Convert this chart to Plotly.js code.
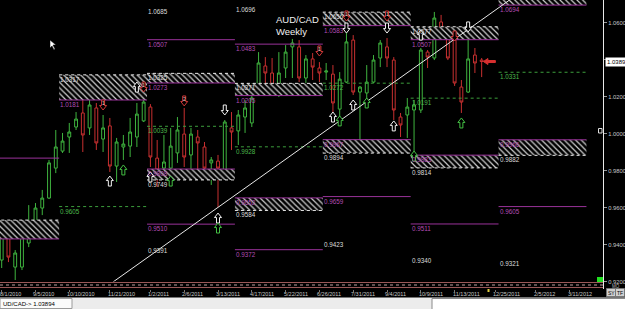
<!DOCTYPE html>
<html><head><meta charset="utf-8">
<script src="https://cdn.plot.ly/plotly-3.0.1.min.js"></script>
<style>html,body{margin:0;padding:0;background:#000;overflow:hidden}#chart{width:625px;height:309px}</style>
</head><body><div id="chart"></div>
<script>
// ---------- DATA ----------
const firstWeek = '2010-08-01';
const opens = [0.9316,0.9435,0.9278,0.9278,0.9408,0.9516,0.9597,0.9651,0.9813,0.9905,
 0.9981,1.0035,1.0111,1.0030,1.0138,0.9970,1.0041,0.9824,0.9927,0.9932,
 0.9981,1.0068,1.0143,0.9867,0.9813,0.9813,0.9895,0.9997,0.9884,0.9981,
 0.9927,0.9841,0.9851,0.9786,1.0030,1.0014,1.0089,1.0057,1.0251,1.0365,
 1.0327,1.0208,1.0354,1.0468,1.0468,1.0300,1.0403,1.0354,1.0332,1.0321,
 1.0132,1.0278,1.0505,1.0224,1.0219,1.0278,1.0408,1.0468,1.0397,1.0089,
 1.0100,1.0127,1.0127,1.0440,1.0408,1.0603,1.0559,1.0505,1.0251,1.0224,
 1.0424,1.0397];
const highs = [0.9479,0.9462,0.9370,0.9489,0.9613,0.9624,0.9695,0.9857,1.0019,1.0003,
 1.0057,1.0116,1.0181,1.0181,1.0165,1.0100,1.0084,0.9976,0.9992,1.0084,
 1.0165,1.0197,1.0159,0.9965,0.9992,1.0030,1.0089,1.0138,1.0030,1.0019,
 0.9954,0.9873,0.9884,1.0073,1.0116,1.0127,1.0181,1.0273,1.0440,1.0413,
 1.0408,1.0440,1.0478,1.0511,1.0505,1.0424,1.0435,1.0386,1.0381,1.0370,
 1.0332,1.0543,1.0532,1.0257,1.0370,1.0424,1.0505,1.0516,1.0413,1.0111,
 1.0192,1.0181,1.0462,1.0451,1.0657,1.0641,1.0581,1.0522,1.0289,1.0597,
 1.0462,1.0408];
const lows = [0.9273,0.9305,0.9208,0.9262,0.9386,0.9462,0.9559,0.9646,0.9786,0.9895,
 0.9895,1.0019,0.9900,0.9992,0.9911,0.9900,0.9792,0.9738,0.9857,0.9873,
 0.9927,1.0062,0.9819,0.9711,0.9749,0.9786,0.9841,0.9819,0.9786,0.9803,
 0.9792,0.9722,0.9603,0.9781,0.9911,0.9938,1.0003,1.0035,1.0219,1.0208,
 1.0208,1.0197,1.0300,1.0300,1.0278,1.0273,1.0289,1.0278,1.0289,1.0116,
 1.0084,1.0273,1.0208,0.9895,1.0170,1.0273,1.0359,1.0359,1.0073,0.9981,
 0.9976,0.9873,1.0111,1.0354,1.0397,1.0505,1.0397,1.0257,1.0111,1.0219,
 1.0327,1.0305];
const closes = [0.9441,0.9332,0.9354,0.9451,0.9495,0.9597,0.9651,0.9841,0.9927,0.9959,
 1.0008,1.0078,0.9992,1.0154,0.9949,1.0030,0.9824,0.9954,0.9943,1.0008,
 1.0105,1.0170,0.9873,0.9803,0.9846,0.9932,1.0019,0.9873,0.9997,0.9949,
 0.9813,0.9857,0.9813,1.0062,1.0008,1.0100,1.0138,1.0192,1.0381,1.0327,
 1.0262,1.0327,1.0440,1.0489,1.0300,1.0403,1.0359,1.0327,1.0338,1.0165,
 1.0294,1.0495,1.0224,1.0251,1.0278,1.0397,1.0489,1.0408,1.0127,1.0046,
 1.0143,1.0154,1.0451,1.0413,1.0624,1.0543,1.0408,1.0273,1.0170,1.0403,
 1.0381,1.0389];

const tickDates = ['2010-08-01','2010-09-05','2010-10-10','2010-11-21','2011-01-02','2011-02-06','2011-03-13','2011-04-17','2011-05-22','2011-06-26','2011-07-31','2011-09-04','2011-10-09','2011-11-13','2011-12-25','2012-02-05','2012-03-11'];
const tickLabels = ['8/1/2010','9/5/2010','10/10/2010','11/21/2010','1/2/2011','2/6/2011','3/13/2011','4/17/2011','5/22/2011','6/26/2011','7/31/2011','9/4/2011','10/9/2011','11/13/2011','12/25/2011','2/5/2012','3/11/2012'];
const priceTicks = [0.92,0.94,0.96,0.98,1.00,1.02,1.04,1.06];
const priceTickLabels = ['0.9200','0.9400','0.9600','0.9800','1.0000','1.0200','','1.0600']; // 1.0400 sits under the price box

// quarterly pivot segments
const segBounds = ['2010-06-30 12:00','2010-09-29 12:00','2010-12-29 12:00','2011-03-30 12:00','2011-06-29 12:00','2011-09-28 12:00','2011-12-28 12:00','2012-03-28 12:00'];
const r2Level     = [null, null, 1.0685, 1.0696, null, null, null];
const r1Level     = [0.9867, null, 1.0507, 1.0483, null, null, null];
const supplyTop   = [0.9532, 1.0317, 1.0325, 1.0271, 1.0656, 1.0577, 1.0770];
const supplyBot   = [0.9430, 1.0181, 1.0273, 1.0205, 1.0583, 1.0507, 1.0694];
const pivotLevel  = [null, 0.9605, 1.0039, 0.9928, 1.0272, 1.0191, 1.0331];
const demandTop   = [null, null, 0.9808, 0.9652, 0.9967, 0.9883, 0.9966];
const demandBot   = [null, null, 0.9749, 0.9584, 0.9894, 0.9814, 0.9882];
const s1Level     = [null, null, 0.9510, 0.9372, 0.9659, 0.9511, 0.9605];
const s2Level     = [null, null, 0.9391, null, 0.9423, 0.9340, 0.9321];

const trendDates = ['2010-11-24 05:00','2012-01-09 00:00'];
const trendPrices = [0.9197, 1.0722];

const sellDates  = ['2010-11-14','2010-12-26','2011-02-06','2011-06-26','2011-07-24','2011-09-04','2011-11-13'];
const sellPrices = [1.0154, 1.0251, 1.0176, 1.0446, 1.0635, 1.0635, 1.0527];
const sellNums   = ['1','1','2','1','1','1',''];
const whiteDownDates  = ['2011-03-20','2011-07-24','2011-09-04','2011-11-27'];
const whiteDownPrices = [1.0127, 1.0570, 1.0570, 1.0576];
const whiteUpDates  = ['2010-11-21','2010-12-19','2011-01-02','2011-03-13','2011-07-10','2011-07-31','2011-09-11','2011-10-09'];
const whiteUpPrices = [0.9743, 1.0251, 0.9765, 0.9543, 1.0089, 1.0154, 1.0041, 1.0532];
const greenUpDates  = ['2010-12-05','2011-01-23','2011-03-13','2011-07-17','2011-08-14','2011-10-02','2011-11-20'];
const greenUpPrices = [0.9803, 0.9743, 0.9489, 1.0068, 1.0165, 0.9878, 1.0057];
const lastDate = '2011-12-19';
const lastPrice = 1.0389;

// ---------- BUILD ----------
const WEEK = 7*864e5;
const t0 = Date.parse(firstWeek + 'T00:00:00Z');
const weekDate = k => new Date(t0 + k*WEEK).toISOString().slice(0,16).replace('T',' ');
const dates = opens.map((_, i) => weekDate(i));
const xRange = [weekDate(-0.25), weekDate(88.95)];
const yRange = [0.91595, 1.07216];

const PURPLE = '#9a329a', PURPLE_T = '#b44cb4', GREEN = '#3c9e3c', GREEN_T = '#4cb84c', WHITE_T = '#dcdcdc';
const CUP = '#3fb43f', CDN = '#c83030';

function segLine(levels){
  const x=[], y=[];
  levels.forEach((v,i)=>{ if(v==null) return; x.push(segBounds[i], segBounds[i+1], null); y.push(v, v, null); });
  return {x, y};
}
function segRects(tops, bots){
  const x=[], y=[];
  tops.forEach((t,i)=>{ const b = bots[i]; if(t==null||b==null) return;
    const s=segBounds[i], e=segBounds[i+1];
    x.push(s,e,e,s,s,null); y.push(t,t,b,b,t,null); });
  return {x, y};
}
function lineTrace(levels, color, dash){
  const d = segLine(levels);
  return {type:'scatter', mode:'lines', x:d.x, y:d.y, line:{color, width:1, dash:dash||'solid'}, hoverinfo:'skip', connectgaps:false};
}
function hatchTrace(tops, bots){
  const d = segRects(tops, bots);
  return {type:'scatter', mode:'lines', x:d.x, y:d.y, fill:'toself', line:{width:0, color:'rgba(0,0,0,0)'},
    fillcolor:'black', fillpattern:{shape:'\\', fgcolor:'#cfcfcf', bgcolor:'black', size:4, solidity:0.3},
    hoverinfo:'skip', connectgaps:false};
}

const traces = [
  hatchTrace(supplyTop, supplyBot),
  hatchTrace(demandTop, demandBot),
  lineTrace(supplyTop, '#e6e6e6', 'dot'),
  lineTrace(supplyBot, PURPLE),
  lineTrace(demandTop, PURPLE),
  lineTrace(demandBot, '#e6e6e6', 'dot'),
  lineTrace(r1Level, PURPLE),
  lineTrace(s1Level, PURPLE),
  lineTrace(pivotLevel, GREEN, 'dot'),
  {type:'scatter', mode:'lines', x:trendDates, y:trendPrices, line:{color:'#e8e8e8', width:1}, hoverinfo:'skip'},
  {type:'candlestick', x:dates, open:opens, high:highs, low:lows, close:closes,
    increasing:{line:{color:CUP, width:1}, fillcolor:'black'},
    decreasing:{line:{color:CDN, width:1}, fillcolor:'black'},
    whiskerwidth:0, hoverinfo:'skip'}
];

// ---------- ARROWS (block arrows anchored at data points, sized in pixels) ----------
const UP_PATH   = 'M 0 5 L -3.5 0.5 L -1.5 0.5 L -1.5 -5 L 1.5 -5 L 1.5 0.5 L 3.5 0.5 Z';
const DOWN_PATH = 'M 0 -5 L -3.5 -0.5 L -1.5 -0.5 L -1.5 5 L 1.5 5 L 1.5 -0.5 L 3.5 -0.5 Z';
const LEFT_PATH = 'M -6 0 L -1.5 3 L -1.5 1 L 6 1 L 6 -1 L -1.5 -1 L -1.5 -3 Z';
const shapes = [];
function arrowShapes(xs, ys, path, color, fill){
  xs.forEach((x,i)=>shapes.push({type:'path', xref:'x', yref:'y', xsizemode:'pixel', ysizemode:'pixel',
    xanchor:x, yanchor:ys[i], path, fillcolor:fill||'black', line:{color, width:1}, layer:'above'}));
}
arrowShapes(sellDates, sellPrices, DOWN_PATH, '#d03838');
arrowShapes(whiteDownDates, whiteDownPrices, DOWN_PATH, '#f2f2f2');
arrowShapes(whiteUpDates, whiteUpPrices, UP_PATH, '#f2f2f2');
arrowShapes(greenUpDates, greenUpPrices, UP_PATH, '#44c044');
arrowShapes([lastDate], [lastPrice], LEFT_PATH, '#d83030', '#d83030');

const ann = [];
function labels(levels, color){
  levels.forEach((v,i)=>{
    if(v==null || i===0 || v>yRange[1] || v<yRange[0]) return;
    ann.push({x:segBounds[i], y:v, xref:'x', yref:'y', text:v.toFixed(4), showarrow:false,
      xanchor:'left', yanchor:'top', xshift:0, yshift:0, borderpad:0,
      font:{family:'Arial', size:6.3, color}});
  });
}
labels(r2Level, WHITE_T); labels(r1Level, PURPLE_T);
labels(supplyTop, WHITE_T); labels(supplyBot, PURPLE_T);
labels(pivotLevel, GREEN_T);
labels(demandTop, PURPLE_T); labels(demandBot, WHITE_T);
labels(s1Level, PURPLE_T); labels(s2Level, WHITE_T);
sellDates.forEach((d,i)=>{ if(!sellNums[i]) return;
  ann.push({x:d, y:sellPrices[i], xref:'x', yref:'y', text:sellNums[i], showarrow:false, yshift:2, borderpad:0,
    font:{family:'Arial', size:5, color:'#ffd0d0'}}); });

// pixel helpers for decorations (plot area 603 x 289)
const PW = 603, PH = 289;
const px = X => X/PW, py = Y => (PH - Y)/PH;

tickDates.forEach((d,i)=>{
  ann.push({x:d, xref:'x', yref:'paper', y:py(294), xanchor:'left', yanchor:'middle', xshift:-3, showarrow:false,
    text:tickLabels[i], borderpad:0, font:{family:'Arial', size:5.5, color:'#c8c8c8'}});
});

ann.push({xref:'paper', yref:'paper', x:px(274), y:py(12), xanchor:'left', yanchor:'top', align:'left', showarrow:false,
  text:'AUD/CAD<br>Weekly', font:{family:'Arial', size:9.5, color:'#f0f0f0'}});
ann.push({xref:'paper', yref:'y', x:1, y:lastPrice, xanchor:'left', yanchor:'middle', xshift:2, showarrow:false,
  text:lastPrice.toFixed(4), bgcolor:'#ffffff', borderpad:1, font:{family:'Arial', size:6, color:'#000'}});
ann.push({xref:'paper', yref:'paper', x:px(1), y:py(303.5), xanchor:'left', yanchor:'middle', showarrow:false,
  text:'UD/CAD-> 1.03894', font:{family:'Arial', size:6, color:'#000'}});
ann.push({xref:'paper', yref:'paper', x:px(611), y:py(292.5), xanchor:'center', yanchor:'middle', showarrow:false,
  text:'SY', borderpad:0, font:{family:'Arial', size:5, color:'#000'}});
ann.push({xref:'paper', yref:'paper', x:px(620), y:py(292.5), xanchor:'center', yanchor:'middle', showarrow:false,
  text:'TF', borderpad:0, font:{family:'Arial', size:5, color:'#000'}});
ann.push({xref:'paper', yref:'paper', x:px(611), y:py(286), xanchor:'left', yanchor:'middle', showarrow:false,
  text:'MO', borderpad:0, font:{family:'Arial', size:4.5, color:'#bbb'}});

shapes.push(
  {type:'rect', xref:'paper', yref:'paper', x0:0, x1:1, y0:0, y1:py(281.5), fillcolor:'black', line:{width:0}, layer:'above'},
  {type:'line', xref:'paper', yref:'paper', x0:0, x1:1, y0:py(282.5), y1:py(282.5), line:{color:'#9a5858', width:1}, layer:'above'},
  {type:'line', xref:'paper', yref:'paper', x0:0, x1:1, y0:py(285), y1:py(285), line:{color:'#c0a0a0', width:1, dash:'dot'}, layer:'above'},
  {type:'line', xref:'paper', yref:'paper', x0:0, x1:1, y0:py(287.5), y1:py(287.5), line:{color:'#9a5858', width:1}, layer:'above'},
  {type:'rect', xref:'paper', yref:'paper', x0:px(597), x1:px(603), y0:py(282), y1:py(277), fillcolor:'#20e020', line:{width:0}, layer:'above'},
  {type:'rect', xref:'paper', yref:'paper', x0:px(598.5), x1:px(602), y0:py(133), y1:py(128.5), fillcolor:'black', line:{color:'#ddd', width:1}, layer:'above'},
  {type:'rect', xref:'paper', yref:'paper', x0:px(487.5), x1:px(489.5), y0:py(292), y1:py(289), fillcolor:'#e0d040', line:{width:0}, layer:'above'},
  {type:'rect', xref:'paper', yref:'paper', x0:px(0), x1:px(625), y0:py(309), y1:py(297.5), fillcolor:'#ececec', line:{width:0}},
  {type:'rect', xref:'paper', yref:'paper', x0:px(0), x1:px(72), y0:py(308.5), y1:py(298.5), fillcolor:'#fbfbfb', line:{color:'#9a9a9a', width:1}},
  {type:'rect', xref:'paper', yref:'paper', x0:px(432), x1:px(626), y0:py(310), y1:py(298.5), fillcolor:'#ffffff', line:{color:'#8a8a8a', width:1}},
  {type:'rect', xref:'paper', yref:'paper', x0:px(606.5), x1:px(615.5), y0:py(296.5), y1:py(288.5), fillcolor:'#d0d0d0', line:{color:'#777', width:1}},
  {type:'rect', xref:'paper', yref:'paper', x0:px(615.5), x1:px(624.5), y0:py(296.5), y1:py(288.5), fillcolor:'#d0d0d0', line:{color:'#777', width:1}},
  {type:'path', xref:'paper', yref:'paper',
    path:`M ${px(50)} ${py(40)} L ${px(50)} ${py(48)} L ${px(52)} ${py(46)} L ${px(54)} ${py(50)} L ${px(55)} ${py(49)} L ${px(53)} ${py(45)} L ${px(56)} ${py(45)} Z`,
    fillcolor:'#ffffff', line:{color:'#000', width:0.5}, layer:'above'}
);

const layout = {
  width:625, height:309,
  margin:{l:0, r:22, t:0, b:20, pad:0},
  paper_bgcolor:'black', plot_bgcolor:'black',
  showlegend:false, hovermode:false,
  boxgap:0.4,
  xaxis:{type:'date', range:xRange, rangeslider:{visible:false}, showgrid:false, zeroline:false, showline:false,
    tickmode:'array', tickvals:tickDates, ticktext:tickLabels, showticklabels:false,
    ticks:'outside', ticklen:2, tickcolor:'#777', fixedrange:true},
  yaxis:{side:'right', range:yRange, showgrid:false, zeroline:false, showline:true, linecolor:'#e8e8e8', linewidth:1,
    tickmode:'array', tickvals:priceTicks, ticktext:priceTickLabels, ticks:'outside', ticklen:3, tickcolor:'#999',
    tickfont:{family:'Arial', size:5.8, color:'#c8c8c8'}, fixedrange:true},
  shapes, annotations:ann
};

Plotly.newPlot('chart', traces, layout, {staticPlot:true, displayModeBar:false});
</script>
</body></html>
